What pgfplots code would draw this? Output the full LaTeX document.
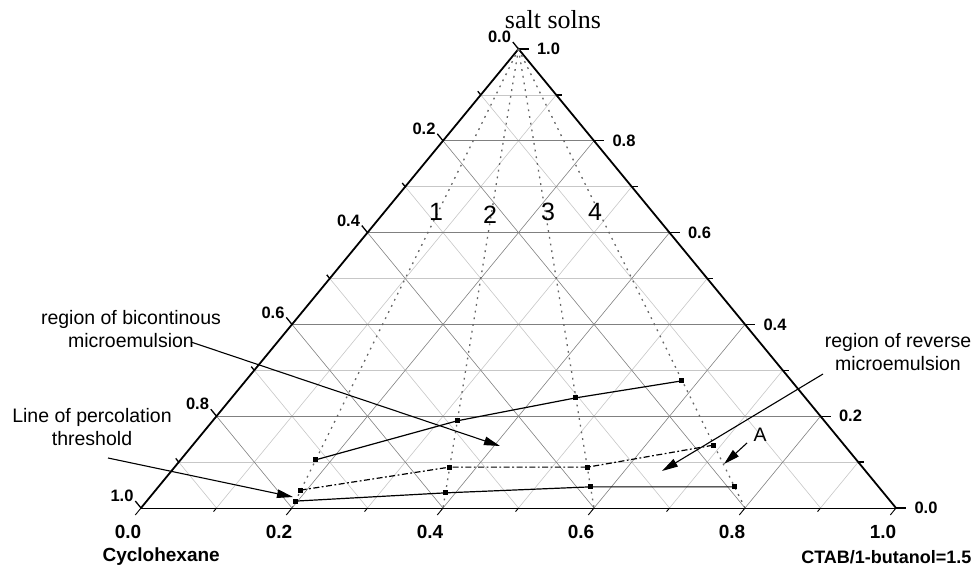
\documentclass[border=0pt]{standalone}
\usepackage{fontspec}
\setmainfont{Liberation Sans}
\newfontfamily\serifface{Liberation Serif}
\usepackage{pgfplots}
\pgfplotsset{compat=1.18}
\usetikzlibrary{arrows.meta}

% ternary (CTAB fraction b, salt fraction s) -> triangle plane
\pgfplotsset{
  table/tern/.style={x expr=\thisrow{b}+0.5*\thisrow{s}, y=s},
}
\tikzset{
  majgrid/.style={black!50, line width=0.6pt},
  mingrid/.style={black!22, line width=0.6pt},
}

\begin{document}
\begin{tikzpicture}
\useasboundingbox (0pt,0pt) rectangle (977pt,570pt);
\begin{axis}[
  at={(141pt,62pt)}, anchor=origin,
  x=755pt, y=459pt,
  xmin=0, xmax=1, ymin=0, ymax=1,
  hide axis, clip=false,
]
% grid lines parallel to the three sides
\pgfplotsinvokeforeach{1,3,5,7,9}{
  \draw[mingrid] (axis cs:{#1/20},{#1/10}) -- (axis cs:{1-#1/20},{#1/10});
  \draw[mingrid] (axis cs:{#1/10},0) -- (axis cs:{#1/10+(1-#1/10)/2},{1-#1/10});
  \draw[mingrid] (axis cs:{#1/10},0) -- (axis cs:{#1/20},{#1/10});
}
\pgfplotsinvokeforeach{2,4,6,8}{
  \draw[majgrid] (axis cs:{#1/20},{#1/10}) -- (axis cs:{1-#1/20},{#1/10});
  \draw[majgrid] (axis cs:{#1/10},0) -- (axis cs:{#1/10+(1-#1/10)/2},{1-#1/10});
  \draw[majgrid] (axis cs:{#1/10},0) -- (axis cs:{#1/20},{#1/10});
}

% triangle frame
\draw[black, line width=0.9pt] (axis cs:0,0) -- (axis cs:1,0);
\draw[black, line width=1.8pt, line join=miter] (axis cs:1,0) -- (axis cs:0.5,1) -- (axis cs:0,0);

% ticks
\pgfplotsinvokeforeach{0,0.2,0.4,0.6,0.8,1}{
  \draw[black, line width=0.9pt] (axis cs:#1,0) -- ++(-5.7pt,-7pt);
  \draw[black, line width=1.3pt] (axis cs:{(1-#1)/2},{1-#1}) -- ++(-5.7pt,7pt);
  \draw[black, line width=1.3pt] (axis cs:{1-#1/2},#1) -- ++(10pt,0pt);
}
\pgfplotsinvokeforeach{0.1,0.3,0.5,0.7,0.9}{
  \draw[black, line width=0.9pt] (axis cs:#1,0) -- ++(-3pt,-3.7pt);
  \draw[black, line width=1.3pt] (axis cs:{(1-#1)/2},{1-#1}) -- ++(-3pt,3.7pt);
  \draw[black, line width=1.3pt] (axis cs:{1-#1/2},#1) -- ++(6pt,0pt);
}

% tick labels
\pgfplotsinvokeforeach{0.0,0.2,0.4,0.6,0.8,1.0}{
  \node[font=\fontsize{19}{21}\selectfont\bfseries] at (axis cs:#1,0) [xshift=-13pt, yshift=-24pt] {#1};
  \node[font=\fontsize{16.5}{18}\selectfont\bfseries] at (axis cs:{(1-#1)/2},{1-#1}) [xshift=-19pt, yshift=12pt] {#1};
  \node[font=\fontsize{16.5}{18}\selectfont\bfseries] at (axis cs:{1-#1/2},#1) [xshift=30pt] {#1};
}

% dilution lines 1-4 from the salt-solution corner
\addplot[black!60, line width=1.3pt, dash pattern=on 1.8pt off 5pt] table[tern] {
b s
0 1
0.2 0
};
\addplot[black!60, line width=1.3pt, dash pattern=on 1.8pt off 5pt] table[tern] {
b s
0 1
0.4 0
};
\addplot[black!60, line width=1.3pt, dash pattern=on 1.8pt off 5pt] table[tern] {
b s
0 1
0.6 0
};
\addplot[black!60, line width=1.3pt, dash pattern=on 1.8pt off 5pt] table[tern] {
b s
0 1
0.8 0
};

% upper boundary (bicontinuous region)
\addplot[black, line width=1.2pt, mark=square*, mark size=1.9pt] table[tern] {
b s
0.179 0.105
0.324 0.190
0.456 0.240
0.578 0.277
};
% dash-dot boundary (reverse microemulsion)
\addplot[black, line width=1.2pt, dash pattern=on 6pt off 2.5pt on 1.8pt off 2.5pt,
  mark=square*, mark size=1.9pt, mark options={solid}] table[tern] {
b s
0.192 0.039
0.364 0.089
0.547 0.089
0.690 0.137
};
% percolation threshold
\addplot[black, line width=1.2pt, mark=square*, mark size=1.9pt] table[tern] {
b s
0.197 0.015
0.387 0.033
0.572 0.046
0.763 0.046
};
\end{axis}

% titles of the corners
\node[font=\serifface\fontsize{26}{28}\selectfont] at (553pt,550pt) {salt solns};
\node[font=\fontsize{19}{21}\selectfont\bfseries, anchor=west] at (99pt,13pt) {Cyclohexane};
\node[font=\fontsize{18}{20}\selectfont\bfseries, anchor=east] at (975pt,13pt) {CTAB/1-butanol=1.5};

% numbers of the dilution lines
\begin{scope}[every node/.style={font=\fontsize{25}{28}\selectfont}]
\node at (436pt,358pt) {1};
\node at (490pt,355pt) {2};
\node at (548pt,358pt) {3};
\node at (595pt,358pt) {4};
\end{scope}

% annotations
\begin{scope}[every node/.style={font=\fontsize{19.5}{23}\selectfont, align=center},
  arr/.style={black, line width=1.1pt, -{Triangle[length=16pt, width=8.5pt]}}]
\node at (131pt,240.5pt) {region of bicontinous\\microemulsion};
\draw[arr] (191pt,228pt) -- (500pt,124pt);
\node at (92pt,142.5pt) {Line of percolation\\threshold};
\draw[arr] (108pt,112pt) -- (293pt,73pt);
\node at (898pt,217.5pt) {region of reverse\\microemulsion};
\draw[arr] (823pt,196pt) -- (662pt,99pt);
\node at (760pt,135pt) {A};
\draw[arr] (747pt,127pt) -- (724pt,106pt);
\end{scope}
\end{tikzpicture}
\end{document}
